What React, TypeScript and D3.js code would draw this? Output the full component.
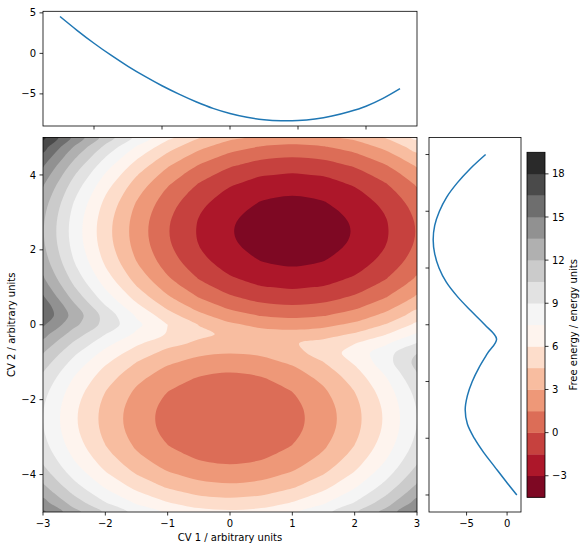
import React from 'react';
import * as d3 from 'd3';

// free energy surface, 0.5 units in CV 1 and 0.25 units in CV 2 (estimated from the contour bands)
const gridX = [-3, -2.5, -2, -1.5, -1, -0.5, 0, 0.5, 1, 1.5, 2, 2.5, 3];
const gridY = [
  5, 4.75, 4.5, 4.25, 4, 3.75, 3.5, 3.25, 3, 2.75, 2.5, 2.25, 2, 1.75, 1.5, 1.25, 1, 0.75, 0.5, 0.25, 0,
  -0.25, -0.5, -0.75, -1, -1.25, -1.5, -1.75, -2, -2.25, -2.5, -2.75, -3, -3.25, -3.5, -3.75, -4, -4.25, -4.5, -4.75, -5,
];
const freeEnergy = [
  [18.35, 14.6, 11.35, 8.6, 6.35, 4.6, 3.35, 2.6, 2.35, 2.6, 3.35, 4.6, 6.35],
  [17.16, 13.41, 10.16, 7.41, 5.16, 3.41, 2.16, 1.41, 1.16, 1.41, 2.16, 3.41, 5.16],
  [16.1, 12.35, 9.1, 6.35, 4.1, 2.35, 1.1, 0.35, 0.1, 0.35, 1.1, 2.35, 4.1],
  [15.16, 11.41, 8.16, 5.41, 3.16, 1.41, 0.16, -0.59, -0.84, -0.59, 0.16, 1.41, 3.16],
  [14.35, 10.6, 7.35, 4.6, 2.35, 0.6, -0.65, -1.4, -1.65, -1.4, -0.65, 0.6, 2.35],
  [13.66, 9.91, 6.66, 3.91, 1.66, -0.09, -1.34, -2.09, -2.34, -2.09, -1.34, -0.09, 1.66],
  [13.1, 9.35, 6.1, 3.35, 1.1, -0.65, -1.9, -2.65, -2.9, -2.65, -1.9, -0.65, 1.1],
  [12.66, 8.91, 5.66, 2.91, 0.66, -1.09, -2.34, -3.09, -3.34, -3.09, -2.34, -1.09, 0.66],
  [12.35, 8.6, 5.35, 2.6, 0.35, -1.4, -2.65, -3.4, -3.65, -3.4, -2.65, -1.4, 0.35],
  [12.16, 8.41, 5.16, 2.41, 0.16, -1.59, -2.84, -3.59, -3.84, -3.59, -2.84, -1.59, 0.16],
  [12.1, 8.35, 5.1, 2.35, 0.1, -1.65, -2.9, -3.65, -3.9, -3.65, -2.9, -1.65, 0.1],
  [12.16, 8.41, 5.16, 2.41, 0.16, -1.59, -2.84, -3.59, -3.84, -3.59, -2.84, -1.59, 0.16],
  [12.35, 8.6, 5.35, 2.6, 0.35, -1.4, -2.65, -3.4, -3.65, -3.4, -2.65, -1.4, 0.35],
  [12.66, 8.91, 5.66, 2.91, 0.66, -1.09, -2.34, -3.09, -3.34, -3.09, -2.34, -1.09, 0.66],
  [13.1, 9.35, 6.1, 3.35, 1.1, -0.65, -1.9, -2.65, -2.9, -2.65, -1.9, -0.65, 1.1],
  [13.66, 9.91, 6.66, 3.91, 1.66, -0.09, -1.34, -2.09, -2.34, -2.09, -1.34, -0.09, 1.66],
  [14.35, 10.6, 7.35, 4.6, 2.35, 0.6, -0.65, -1.4, -1.65, -1.4, -0.65, 0.6, 2.35],
  [15.15, 11.4, 8.16, 5.41, 3.16, 1.41, 0.16, -0.59, -0.84, -0.59, 0.16, 1.41, 3.16],
  [15.96, 12.3, 9.08, 6.34, 4.1, 2.35, 1.1, 0.35, 0.1, 0.35, 1.1, 2.35, 4.1],
  [16.13, 12.9, 9.94, 7.32, 5.13, 3.4, 2.16, 1.41, 1.16, 1.41, 2.16, 3.41, 5.16],
  [15.21, 12.38, 9.96, 7.86, 6.01, 4.46, 3.3, 2.58, 2.34, 2.6, 3.35, 4.6, 6.35],
  [14.06, 11.3, 9.03, 7.24, 5.88, 4.87, 4.15, 3.69, 3.57, 3.88, 4.65, 5.91, 7.66],
  [13.0, 10.25, 8.0, 6.24, 4.98, 4.21, 3.88, 3.96, 4.36, 5.01, 5.96, 7.3, 9.08],
  [12.06, 9.31, 7.06, 5.31, 4.06, 3.31, 3.05, 3.28, 3.99, 5.13, 6.62, 8.4, 10.44],
  [11.25, 8.5, 6.25, 4.5, 3.25, 2.5, 2.25, 2.5, 3.25, 4.48, 6.21, 8.38, 10.96],
  [10.56, 7.81, 5.56, 3.81, 2.56, 1.81, 1.56, 1.81, 2.56, 3.81, 5.56, 7.81, 10.55],
  [10, 7.25, 5, 3.25, 2, 1.25, 1, 1.25, 2, 3.25, 5, 7.25, 10],
  [9.56, 6.81, 4.56, 2.81, 1.56, 0.81, 0.56, 0.81, 1.56, 2.81, 4.56, 6.81, 9.56],
  [9.25, 6.5, 4.25, 2.5, 1.25, 0.5, 0.25, 0.5, 1.25, 2.5, 4.25, 6.5, 9.25],
  [9.06, 6.31, 4.06, 2.31, 1.06, 0.31, 0.06, 0.31, 1.06, 2.31, 4.06, 6.31, 9.06],
  [9, 6.25, 4, 2.25, 1, 0.25, 0, 0.25, 1, 2.25, 4, 6.25, 9],
  [9.06, 6.31, 4.06, 2.31, 1.06, 0.31, 0.06, 0.31, 1.06, 2.31, 4.06, 6.31, 9.06],
  [9.25, 6.5, 4.25, 2.5, 1.25, 0.5, 0.25, 0.5, 1.25, 2.5, 4.25, 6.5, 9.25],
  [9.56, 6.81, 4.56, 2.81, 1.56, 0.81, 0.56, 0.81, 1.56, 2.81, 4.56, 6.81, 9.56],
  [10, 7.25, 5, 3.25, 2, 1.25, 1, 1.25, 2, 3.25, 5, 7.25, 10],
  [10.56, 7.81, 5.56, 3.81, 2.56, 1.81, 1.56, 1.81, 2.56, 3.81, 5.56, 7.81, 10.56],
  [11.25, 8.5, 6.25, 4.5, 3.25, 2.5, 2.25, 2.5, 3.25, 4.5, 6.25, 8.5, 11.25],
  [12.06, 9.31, 7.06, 5.31, 4.06, 3.31, 3.06, 3.31, 4.06, 5.31, 7.06, 9.31, 12.06],
  [13, 10.25, 8, 6.25, 5, 4.25, 4, 4.25, 5, 6.25, 8, 10.25, 13],
  [14.06, 11.31, 9.06, 7.31, 6.06, 5.31, 5.06, 5.31, 6.06, 7.31, 9.06, 11.31, 14.06],
  [15.25, 12.5, 10.25, 8.5, 7.25, 6.5, 6.25, 6.5, 7.25, 8.5, 10.25, 12.5, 15.25],
];

// contour levels and colorbar ticks
const levels = [-4.5, -3, -1.5, 0, 1.5, 3, 4.5, 6, 7.5, 9, 10.5, 12, 13.5, 15, 16.5, 18, 19.5];
const colorbarTicks = [-3, 0, 3, 6, 9, 12, 15, 18];

// 1D profiles in the marginal panels
const profileX = [-2.5, -2.25, -2, -1.75, -1.5, -1.25, -1, -0.75, -0.5, -0.25, 0, 0.25, 0.5, 0.75, 1, 1.25, 1.5, 1.75, 2, 2.25, 2.5];
const profileXEnergy = [4.55, 2.85, 1.25, -0.23, -1.6, -2.85, -4.0, -5.03, -5.97, -6.79, -7.42, -7.89, -8.19, -8.32, -8.29, -8.1, -7.74, -7.21, -6.52, -5.55, -4.35];
const profileY = [3, 2.75, 2.5, 2.25, 2, 1.75, 1.5, 1.25, 1, 0.75, 0.5, 0.25, 0, -0.25, -0.5, -0.75, -1, -1.25, -1.5, -1.75, -2, -2.25, -2.5, -2.75, -3];
const profileYEnergy = [-2.65, -4.55, -6.15, -7.45, -8.35, -8.93, -9.12, -8.93, -8.4, -7.5, -6.15, -4.5, -2.75, -1.3, -2.4, -3.45, -4.3, -4.9, -5.17, -4.9, -4.05, -2.9, -1.55, -0.2, 1.2];

const mainXTicks = [-3, -2, -1, 0, 1, 2, 3];
const mainYTicks = [-4, -2, 0, 2, 4];
const topXTicks = [-2, -1, 0, 1, 2];
const topYTicks = [-5, 0, 5];
const sideXTicks = [-5, 0];
const sideYTicks = [-3, -2, -1, 0, 1, 2, 3];

// matplotlib RdGy
const rdgy = ['#67001f', '#b2182b', '#d6604d', '#f4a582', '#fddbc7', '#ffffff', '#e0e0e0', '#bababa', '#878787', '#4d4d4d', '#1a1a1a'];

const fmt = (v: number) => (v < 0 ? '\u2212' + Math.abs(v) : String(v));
const pad = (ext: [number, number]): [number, number] => {
  const m = (ext[1] - ext[0]) * 0.05;
  return [ext[0] - m, ext[1] + m];
};

type Box = { l: number; r: number; t: number; b: number };

function Frame({ b }: { b: Box }) {
  return <rect x={b.l} y={b.t} width={b.r - b.l} height={b.b - b.t} fill="none" stroke="#000" strokeWidth={0.8} />;
}

function BottomTicks({ b, scale, ticks, labels }: { b: Box; scale: any; ticks: number[]; labels: boolean }) {
  return (
    <g>
      {ticks.map((t) => (
        <g key={t}>
          <line x1={scale(t)} x2={scale(t)} y1={b.b} y2={b.b + 3.5} stroke="#000" strokeWidth={0.8} />
          {labels && (
            <text x={scale(t)} y={b.b + 15} textAnchor="middle">{fmt(t)}</text>
          )}
        </g>
      ))}
    </g>
  );
}

function LeftTicks({ b, scale, ticks, labels }: { b: Box; scale: any; ticks: number[]; labels: boolean }) {
  return (
    <g>
      {ticks.map((t) => (
        <g key={t}>
          <line x1={b.l - 3.5} x2={b.l} y1={scale(t)} y2={scale(t)} stroke="#000" strokeWidth={0.8} />
          {labels && (
            <text x={b.l - 7} y={scale(t) + 3.6} textAnchor="end">{fmt(t)}</text>
          )}
        </g>
      ))}
    </g>
  );
}

export default function App() {
  const main: Box = { l: 43, r: 417, t: 137.5, b: 512 };
  const top: Box = { l: 43, r: 417, t: 11.3, b: 126 };
  const side: Box = { l: 429, r: 521, t: 137.5, b: 512 };
  const cb: Box = { l: 527, r: 545, t: 152.3, b: 497.3 };

  const x = d3.scaleLinear([-3, 3], [main.l, main.r]);
  const y = d3.scaleLinear([-5, 5], [main.b, main.t]);
  const tx = d3.scaleLinear(pad(d3.extent(profileX) as [number, number]), [top.l, top.r]);
  const ty = d3.scaleLinear(pad(d3.extent(profileXEnergy) as [number, number]), [top.b, top.t]);
  const sx = d3.scaleLinear(pad(d3.extent(profileYEnergy) as [number, number]), [side.l, side.r]);
  const sy = d3.scaleLinear(pad(d3.extent(profileY) as [number, number]), [side.b, side.t]);
  const cy = d3.scaleLinear([levels[0], levels[levels.length - 1]], [cb.b, cb.t]);

  const cmap = d3.scaleLinear<string>().domain(rdgy.map((_, i) => i / (rdgy.length - 1))).range(rdgy);
  const nBands = levels.length - 1;
  const bandColor = (k: number) => cmap((k + 0.5) / nBands);

  // filled contours
  const nx = gridX.length;
  const ny = gridY.length;
  const contourSet = d3.contours().size([nx, ny]).thresholds(levels.slice(1, -1))(freeEnergy.flat());
  const gx = d3.scaleLinear([0.5, nx - 0.5], [x(gridX[0]), x(gridX[nx - 1])]);
  const gy = d3.scaleLinear([0.5, ny - 0.5], [y(gridY[0]), y(gridY[ny - 1])]);
  const ring = d3.line<number[]>()
    .x((p) => gx(p[0]))
    .y((p) => gy(p[1]))
    .curve(d3.curveCatmullRomClosed.alpha(0.5));
  const bandPaths = contourSet.map((c) =>
    c.coordinates.map((poly) => poly.map((r) => ring(r.slice(0, -1)) || '').join(' ')).join(' ')
  );

  const topLine = d3.line<number>().x((_, i) => tx(profileX[i])).y((d) => ty(d)).curve(d3.curveCatmullRom.alpha(0.5));
  const sideLine = d3.line<number>().x((d) => sx(d)).y((_, i) => sy(profileY[i])).curve(d3.curveCatmullRom.alpha(0.5));

  const bandH = (cb.b - cb.t) / nBands;

  return (
    <svg
      width={587}
      height={550}
      style={{ position: 'absolute', left: 0, top: 0, background: '#fff' }}
      fontFamily="DejaVu Sans"
      fontSize={10}
      fill="#000"
    >
      <defs>
        <clipPath id="mainClip">
          <rect x={main.l} y={main.t} width={main.r - main.l} height={main.b - main.t} />
        </clipPath>
      </defs>
      <rect width={587} height={550} fill="#fff" />

      {/* top panel */}
      <path d={topLine(profileXEnergy) || ''} fill="none" stroke="#1f77b4" strokeWidth={1.5} />
      <BottomTicks b={top} scale={tx} ticks={topXTicks} labels={false} />
      <LeftTicks b={top} scale={ty} ticks={topYTicks} labels={true} />
      <Frame b={top} />

      {/* main contour panel */}
      <g clipPath="url(#mainClip)">
        <rect x={main.l} y={main.t} width={main.r - main.l} height={main.b - main.t} fill={bandColor(0)} />
        {bandPaths.map((d, i) => (
          <path key={i} d={d} fill={bandColor(i + 1)} fillRule="evenodd" stroke="none" />
        ))}
      </g>
      <BottomTicks b={main} scale={x} ticks={mainXTicks} labels={true} />
      <LeftTicks b={main} scale={y} ticks={mainYTicks} labels={true} />
      <Frame b={main} />
      <text x={(main.l + main.r) / 2} y={541} textAnchor="middle">CV 1 / arbitrary units</text>
      <text transform={`translate(14.5, ${(main.t + main.b) / 2}) rotate(-90)`} textAnchor="middle">CV 2 / arbitrary units</text>

      {/* side panel */}
      <path d={sideLine(profileYEnergy) || ''} fill="none" stroke="#1f77b4" strokeWidth={1.5} />
      <BottomTicks b={side} scale={sx} ticks={sideXTicks} labels={true} />
      <LeftTicks b={side} scale={sy} ticks={sideYTicks} labels={false} />
      <Frame b={side} />

      {/* colorbar */}
      {d3.range(nBands).map((k) => (
        <rect key={k} x={cb.l} y={cy(levels[k + 1])} width={cb.r - cb.l} height={bandH + 0.3} fill={bandColor(k)} />
      ))}
      <Frame b={cb} />
      {colorbarTicks.map((t) => (
        <g key={t}>
          <line x1={cb.r} x2={cb.r + 3.5} y1={cy(t)} y2={cy(t)} stroke="#000" strokeWidth={0.8} />
          <text x={cb.r + 7} y={cy(t) + 3.6}>{fmt(t)}</text>
        </g>
      ))}
      <text transform={`translate(577, ${(cb.t + cb.b) / 2}) rotate(-90)`} textAnchor="middle">Free energy / energy units</text>
    </svg>
  );
}
